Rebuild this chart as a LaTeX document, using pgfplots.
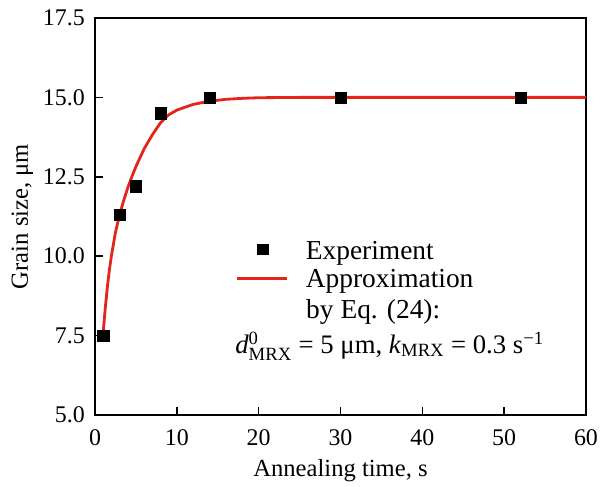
\documentclass[border=0pt]{standalone}
\usepackage{amsmath}
\usepackage{fontspec}
\setmainfont{Liberation Serif}
\usepackage{pgfplots}
\pgfplotsset{compat=1.18}
\definecolor{fitred}{RGB}{226,38,28}
\pgfplotsset{
  legmark/.style={legend image code/.code={\draw[##1, mark size=0.135cm] plot coordinates {(0.65cm,0.04cm)};}},
  legline/.style={legend image code/.code={\draw[##1] (0cm,0cm) -- (1.25cm,0cm);}},
}

\begin{document}
\begin{tikzpicture}
\begin{axis}[
  width=12.275cm, height=9.925cm, scale only axis,
  xmin=0, xmax=60, ymin=5, ymax=17.5,
  xtick={0,10,20,30,40,50,60},
  ytick={5,7.5,10,12.5,15,17.5},
  tick pos=left, tick align=inside, major tick length=0.2cm,
  axis line style={line width=1.1pt},
  every tick/.style={line width=1.1pt, black},
  /pgf/number format/assume math mode=true,
  ticklabel style={font=\fontsize{17}{20}\selectfont, inner sep=0pt},
  yticklabel style={xshift=-0.25cm, /pgf/number format/.cd, fixed, fixed zerofill, precision=1},
  xticklabel style={yshift=-0.36cm},
  xlabel={Annealing time, s},
  ylabel={Grain size, μm},
  every axis x label/.style={at={(axis description cs:0.5,-0.156)}, anchor=base,
    font=\fontsize{17.5}{21}\selectfont},
  every axis y label/.style={at={(axis description cs:-0.1365,0.5)}, rotate=90, anchor=base,
    font=\fontsize{17.5}{21}\selectfont},
  legend style={draw=none, fill=none, at={(axis cs:17.108,10.614)}, anchor=north west,
    inner sep=0pt, font=\fontsize{19.5}{23}\selectfont,
    cells={anchor=west, inner sep=0pt, text height=0.5cm, text depth=0.208cm},
    row sep=0pt, /tikz/every odd column/.append style={column sep=0.375cm}},
]
\addplot[only marks, mark=square*, mark size=0.14cm, black, legmark]
  coordinates {(1,7.5) (3,11.3) (5,12.2) (8,14.5) (14,15.0) (30,15.0) (52,15.0)};
\addlegendentry{Experiment}
\addplot[fitred, line width=2pt, legline]
  coordinates {(1,7.6) (1.25,8.35) (1.5,9.0) (1.75,9.55) (2,10.0) (2.5,10.75)
    (3,11.3) (3.5,11.75) (4,12.15) (4.5,12.5) (5,12.82) (6,13.38) (7,13.82)
    (8,14.2) (9,14.45) (10,14.6) (12,14.78) (14,14.88) (16,14.94) (18,14.97)
    (20,14.99) (25,15.0) (30,15.0) (40,15.0) (50,15.0) (60,15.0)};
\addlegendentry{Approximation}
\node[anchor=base west, font=\fontsize{19.5}{23}\selectfont, inner sep=0pt]
  at (axis cs:25.78,8.045) {by Eq. (24):};
\node[anchor=base west, font=\fontsize{19}{23}\selectfont, inner sep=0pt]
  at (axis cs:17.108,6.952)
  {\textit{d}$^{\text{0}}_{\text{MRX}}$ = 5 μm, \textit{k}$_{\text{MRX}}$ = 0.3 s$^{\text{−1}}$};
\end{axis}
\path (current axis.south west) ++(-2.375cm,-1.725cm) rectangle ++(15cm,12.1cm);
\end{tikzpicture}
\end{document}
